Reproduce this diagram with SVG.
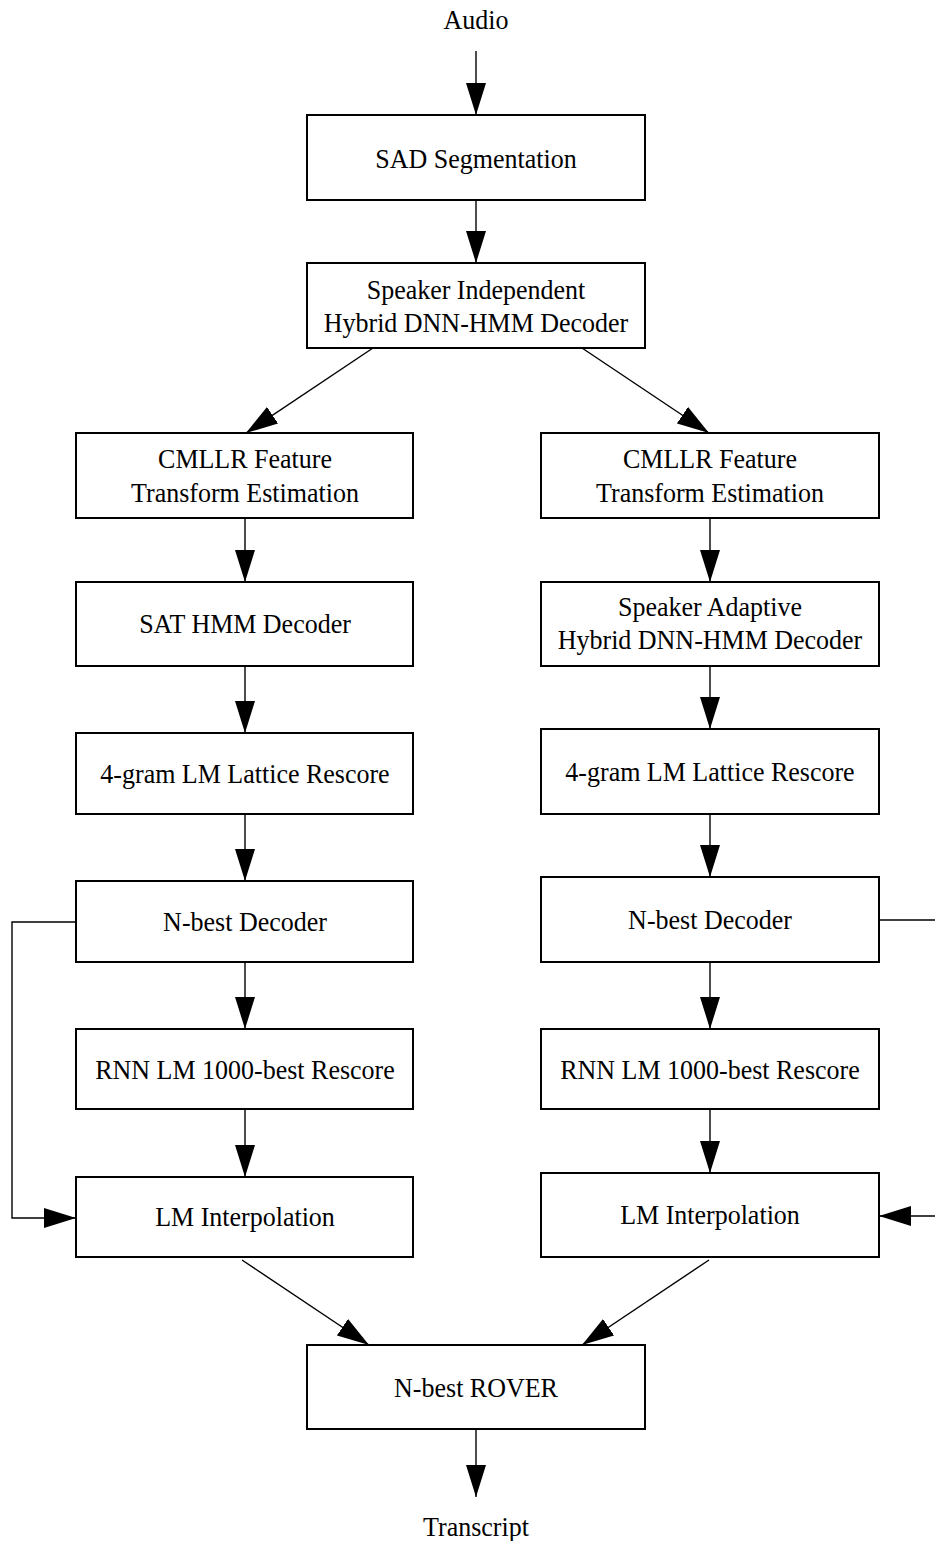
<svg xmlns="http://www.w3.org/2000/svg" width="935" height="1541" viewBox="0 0 935 1541">
<style>
.box{fill:#fff;stroke:#000;stroke-width:2}
.lbl{font-family:"Liberation Serif","Times New Roman",serif;font-size:26px;fill:#000;text-anchor:middle;transform-box:fill-box;transform-origin:center;transform:scaleY(1.07)}
.edge{fill:none;stroke:#000;stroke-width:1.4}
</style>
<defs>
<marker id="ah" markerUnits="userSpaceOnUse" markerWidth="33" markerHeight="21" refX="32" refY="10" orient="auto">
<path d="M0,0 L32,10 L0,20 z" fill="#000"/>
</marker>
</defs>
<rect width="935" height="1541" fill="#fff"/>
<g id="connectors">
<line class="edge" x1="476" y1="51" x2="476" y2="115" marker-end="url(#ah)"/>
<line class="edge" x1="476" y1="200" x2="476" y2="263" marker-end="url(#ah)"/>
<line class="edge" x1="373" y1="348" x2="246" y2="433" marker-end="url(#ah)"/>
<line class="edge" x1="582" y1="348" x2="709" y2="433" marker-end="url(#ah)"/>
<line class="edge" x1="245" y1="518" x2="245" y2="582" marker-end="url(#ah)"/>
<line class="edge" x1="245" y1="666" x2="245" y2="733" marker-end="url(#ah)"/>
<line class="edge" x1="245" y1="814" x2="245" y2="881" marker-end="url(#ah)"/>
<line class="edge" x1="245" y1="962" x2="245" y2="1029" marker-end="url(#ah)"/>
<line class="edge" x1="245" y1="1109" x2="245" y2="1177" marker-end="url(#ah)"/>
<line class="edge" x1="710" y1="518" x2="710" y2="582" marker-end="url(#ah)"/>
<line class="edge" x1="710" y1="666" x2="710" y2="729" marker-end="url(#ah)"/>
<line class="edge" x1="710" y1="814" x2="710" y2="877" marker-end="url(#ah)"/>
<line class="edge" x1="710" y1="962" x2="710" y2="1029" marker-end="url(#ah)"/>
<line class="edge" x1="710" y1="1109" x2="710" y2="1173" marker-end="url(#ah)"/>
<path class="edge" d="M76,922 H12 V1218 H76" marker-end="url(#ah)"/>
<path class="edge" d="M879,920 H940"/>
<path class="edge" d="M940,1216 H879" marker-end="url(#ah)"/>
<line class="edge" x1="242" y1="1260" x2="369" y2="1345" marker-end="url(#ah)"/>
<line class="edge" x1="709" y1="1260" x2="582" y2="1345" marker-end="url(#ah)"/>
<line class="edge" x1="476" y1="1429" x2="476" y2="1497" marker-end="url(#ah)"/>
</g>
<g id="audio"><text class="lbl" x="476" y="28">Audio</text></g>
<g id="sad"><rect class="box" x="307" y="115" width="338" height="85"/><text class="lbl" x="476" y="167">SAD Segmentation</text></g>
<g id="si"><rect class="box" x="307" y="263" width="338" height="85"/><text class="lbl" x="476" y="298">Speaker Independent</text><text class="lbl" x="476" y="331">Hybrid DNN-HMM Decoder</text></g>
<g id="cmllr-l"><rect class="box" x="76" y="433" width="337" height="85"/><text class="lbl" x="245" y="467">CMLLR Feature</text><text class="lbl" x="245" y="501">Transform Estimation</text></g>
<g id="cmllr-r"><rect class="box" x="541" y="433" width="338" height="85"/><text class="lbl" x="710" y="467">CMLLR Feature</text><text class="lbl" x="710" y="501">Transform Estimation</text></g>
<g id="sat"><rect class="box" x="76" y="582" width="337" height="84"/><text class="lbl" x="245" y="632">SAT HMM Decoder</text></g>
<g id="sa"><rect class="box" x="541" y="582" width="338" height="84"/><text class="lbl" x="710" y="615">Speaker Adaptive</text><text class="lbl" x="710" y="648">Hybrid DNN-HMM Decoder</text></g>
<g id="fg-l"><rect class="box" x="76" y="733" width="337" height="81"/><text class="lbl" x="245" y="782">4-gram LM Lattice Rescore</text></g>
<g id="fg-r"><rect class="box" x="541" y="729" width="338" height="85"/><text class="lbl" x="710" y="780">4-gram LM Lattice Rescore</text></g>
<g id="nb-l"><rect class="box" x="76" y="881" width="337" height="81"/><text class="lbl" x="245" y="930">N-best Decoder</text></g>
<g id="nb-r"><rect class="box" x="541" y="877" width="338" height="85"/><text class="lbl" x="710" y="928">N-best Decoder</text></g>
<g id="rnn-l"><rect class="box" x="76" y="1029" width="337" height="80"/><text class="lbl" x="245" y="1078">RNN LM 1000-best Rescore</text></g>
<g id="rnn-r"><rect class="box" x="541" y="1029" width="338" height="80"/><text class="lbl" x="710" y="1078">RNN LM 1000-best Rescore</text></g>
<g id="lmi-l"><rect class="box" x="76" y="1177" width="337" height="80"/><text class="lbl" x="245" y="1225">LM Interpolation</text></g>
<g id="lmi-r"><rect class="box" x="541" y="1173" width="338" height="84"/><text class="lbl" x="710" y="1223">LM Interpolation</text></g>
<g id="rover"><rect class="box" x="307" y="1345" width="338" height="84"/><text class="lbl" x="476" y="1396">N-best ROVER</text></g>
<g id="transcript"><text class="lbl" x="476" y="1535">Transcript</text></g>
</svg>
